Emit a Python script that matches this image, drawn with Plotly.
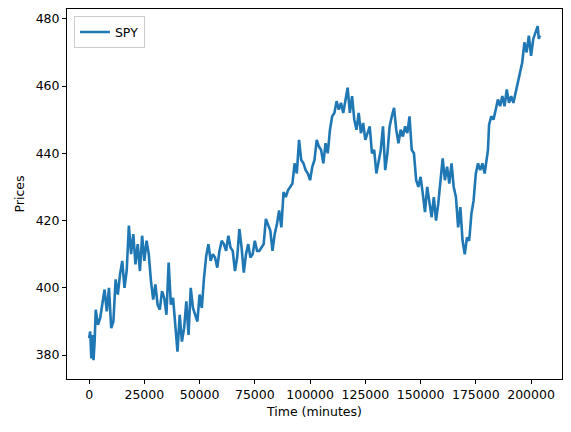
import plotly.graph_objects as go

time_min = [
    0, 500, 1000, 1500, 2000, 2500, 3000, 4000, 5000, 6000, 7000, 8000, 9000, 10000,
    11000, 12000, 13000, 14000, 15000, 16000, 17000, 18000, 19000, 20000, 21000, 22000,
    23000, 24000, 25000, 26000, 27000, 28000, 29000, 30000, 31000, 32000, 33000, 34000,
    35000, 36000, 37000, 38000, 39000, 40000, 41000, 42000, 43000, 44000, 45000, 46000,
    47000, 48000, 49000, 50000, 51000, 52000, 53000, 54000, 55000, 56000, 57000, 58000,
    59000, 60000, 61000, 62000, 63000, 64000, 65000, 66000, 67000, 68000, 69000, 70000,
    71000, 72000, 73000, 74000, 75000, 76000, 77000, 78000, 79000, 80000, 81000, 82000,
    83000, 84000, 85000, 86000, 87000, 88000, 89000, 90000, 91000, 92000, 93000, 94000,
    95000, 96000, 97000, 98000, 99000, 100000, 101000, 102000, 103000, 104000, 105000,
    106000, 107000, 108000, 109000, 110000, 111000, 112000, 113000, 114000, 115000,
    116000, 117000, 118000, 119000, 120000, 121000, 122000, 123000, 124000, 125000,
    126000, 127000, 128000, 129000, 130000, 131000, 132000, 133000, 134000, 135000,
    136000, 137000, 138000, 139000, 140000, 141000, 142000, 143000, 144000, 145000,
    146000, 147000, 148000, 149000, 150000, 151000, 152000, 153000, 154000, 155000,
    156000, 157000, 158000, 159000, 160000, 161000, 162000, 163000, 164000, 165000,
    166000, 167000, 168000, 169000, 170000, 171000, 172000, 173000, 174000, 175000,
    176000, 177000, 178000, 179000, 180000, 180500, 181000, 182000, 183000, 184000,
    185000, 186000, 187000, 188000, 189000, 190000, 191000, 192000, 193000, 194000,
    195000, 196000, 197000, 198000, 199000, 200000, 201000, 202000, 203000, 203500, 204000,
]
spy_price = [
    385.0, 387.0, 379.0, 386.0, 378.5, 384.0, 393.5, 389.0, 391.0, 395.0, 399.5, 393.0, 400.0, 388.0,
    390.0, 402.5, 398.0, 404.0, 408.0, 400.0, 405.0, 418.5, 410.0, 416.0, 407.0, 413.0,
    405.0, 415.5, 408.0, 414.0, 410.0, 402.0, 396.5, 401.0, 395.0, 393.5, 399.0, 397.0,
    392.0, 407.5, 395.0, 397.0, 388.0, 381.0, 392.0, 384.0, 388.0, 396.0, 386.0, 400.0,
    394.0, 392.0, 390.0, 398.0, 394.0, 403.0, 409.5, 413.0, 408.0, 410.0, 409.0, 406.0,
    411.0, 414.0, 413.0, 411.0, 415.5, 412.0, 411.0, 405.0, 409.0, 417.5, 412.0, 404.5,
    410.0, 413.0, 409.0, 410.0, 414.0, 411.0, 411.0, 412.0, 413.0, 420.5, 419.0, 417.0,
    411.0, 416.0, 419.0, 423.0, 418.0, 428.5, 427.0, 429.0, 430.0, 431.0, 437.0, 434.0,
    444.0, 438.0, 437.0, 435.0, 434.0, 432.0, 436.0, 438.0, 444.0, 442.0, 441.0,
    437.0, 443.0, 440.0, 447.0, 451.0, 452.0, 455.5, 453.0, 455.0, 452.0,
    456.0, 459.5, 452.0, 457.0, 450.0, 447.0, 452.0, 446.0, 449.0, 444.0,
    446.0, 448.0, 440.0, 441.0, 434.0, 438.0, 441.0, 448.0, 435.0, 440.0,
    448.0, 451.0, 453.5, 447.0, 443.0, 447.0, 445.0, 448.0, 446.0, 451.0,
    441.0, 440.0, 432.0, 430.0, 433.0, 428.0, 422.5, 430.0, 425.0, 421.0,
    427.0, 420.0, 425.0, 432.0, 438.5, 432.0, 436.0, 431.0, 437.0, 430.0,
    427.0, 418.0, 424.0, 414.0, 410.0, 415.0, 414.0, 422.0, 426.0, 434.0,
    437.0, 435.0, 437.0, 434.0, 440.0, 441.0, 448.5, 451.0, 450.0, 453.0,
    456.0, 454.0, 457.0, 454.0, 459.0, 455.0, 457.0, 455.0, 458.0, 461.0,
    465.0, 467.0, 473.0, 470.0, 475.0, 469.0, 474.0, 476.0, 477.8, 474.0, 475.0,
]

fig = go.Figure()
fig.add_trace(go.Scatter(
    x=time_min, y=spy_price, mode="lines", name="SPY",
    line=dict(color="#1f77b4", width=2.6),
))

axis_font = dict(family="DejaVu Sans", size=12.5, color="#000000")
fig.update_layout(
    width=571, height=432,
    margin=dict(l=67, r=9, t=9, b=53),
    paper_bgcolor="white", plot_bgcolor="white",
    font=axis_font,
    showlegend=True,
    legend=dict(
        x=0.014, y=0.98, xanchor="left", yanchor="top",
        bgcolor="rgba(255,255,255,0.8)", bordercolor="#cccccc", borderwidth=1,
        font=dict(family="DejaVu Sans", size=12.5, color="#000000"),
    ),
    xaxis=dict(
        range=[-10000, 214000],
        tickmode="array",
        tickvals=[0, 25000, 50000, 75000, 100000, 125000, 150000, 175000, 200000],
        ticktext=["0", "25000", "50000", "75000", "100000", "125000", "150000", "175000", "200000"],
        showgrid=False, zeroline=False,
        showline=True, linecolor="black", linewidth=1, mirror=True,
        ticks="outside", ticklen=4, tickcolor="black",
        title=dict(text="Time (minutes)", font=axis_font, standoff=6),
    ),
    yaxis=dict(
        range=[372.9, 482.9],
        tickmode="array",
        tickvals=[380, 400, 420, 440, 460, 480],
        showgrid=False, zeroline=False,
        showline=True, linecolor="black", linewidth=1, mirror=True,
        ticks="outside", ticklen=4, tickcolor="black",
        title=dict(text="Prices", font=axis_font, standoff=8),
    ),
)

fig.write_html("out.html", config={"displayModeBar": False},
               post_script="document.body.style.margin='0';")
